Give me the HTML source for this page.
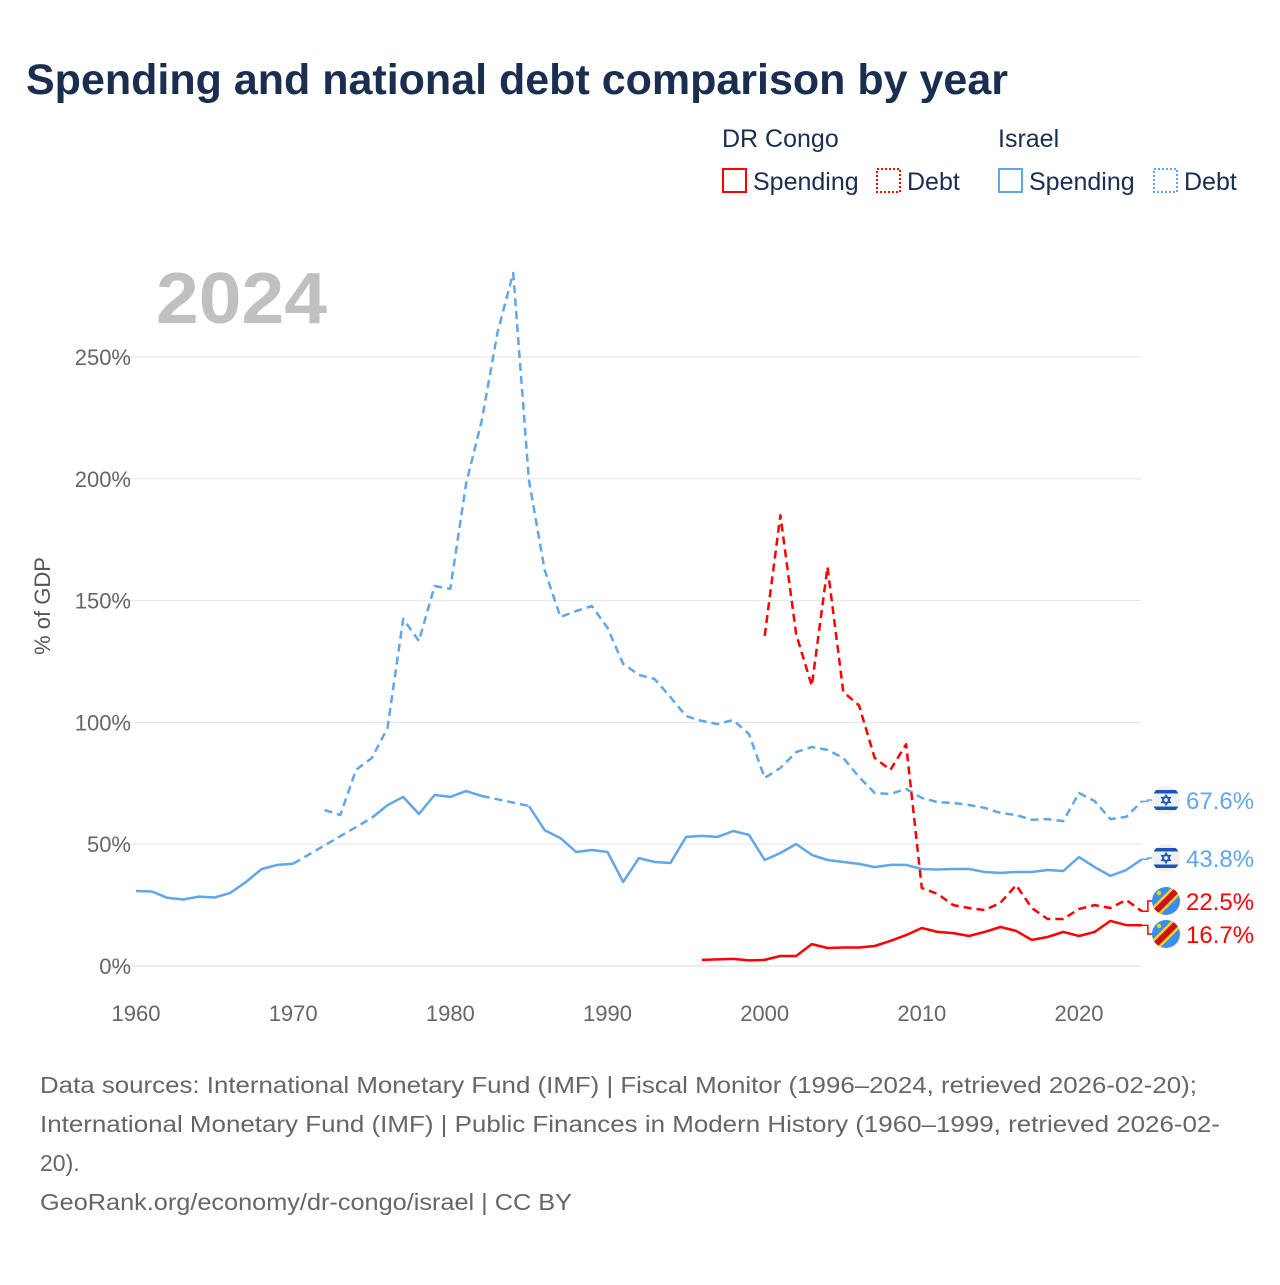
<!DOCTYPE html>
<html><head><meta charset="utf-8">
<style>
body{margin:0;background:#fff;width:1280px;height:1280px;overflow:hidden;font-family:"Liberation Sans",sans-serif;}
svg text{font-family:"Liberation Sans",sans-serif;}
</style></head>
<body>
<svg id="chart" width="1280" height="1280" viewBox="0 0 1280 1280" xmlns="http://www.w3.org/2000/svg">
<text x="26" y="94" font-size="43" font-weight="bold" fill="#1a2e4f">Spending and national debt comparison by year</text>
<g font-size="25" fill="#1a2e4f">
<text x="722" y="147" fill="#1a2e4f">DR Congo</text>
<text x="998" y="147" fill="#1a2e4f">Israel</text>
<g><rect x="723" y="169" width="23" height="23" fill="none" stroke="#ff0000" stroke-width="2"/><text x="753" y="190" fill="#1a2e4f">Spending</text></g>
<g><rect x="877" y="169" width="23" height="23" fill="none" stroke="#ff0000" stroke-width="2" stroke-dasharray="2,2"/><text x="907" y="190" fill="#1a2e4f">Debt</text></g>
<g><rect x="999" y="169" width="23" height="23" fill="none" stroke="#62a6ea" stroke-width="2"/><text x="1029" y="190" fill="#1a2e4f">Spending</text></g>
<g><rect x="1154" y="169" width="23" height="23" fill="none" stroke="#62a6ea" stroke-width="2" stroke-dasharray="2,2"/><text x="1184" y="190" fill="#1a2e4f">Debt</text></g>
</g>
<text x="156" y="323" font-size="72" font-weight="bold" fill="#c0c0c0" textLength="171" lengthAdjust="spacingAndGlyphs">2024</text>
<text transform="translate(50,606) rotate(-90)" text-anchor="middle" font-size="22" fill="#555">% of GDP</text>
<g id="grid"></g><g id="marks"></g>
<g font-size="23" fill="#666">
<text x="40" y="1093" textLength="1157" lengthAdjust="spacingAndGlyphs">Data sources: International Monetary Fund (IMF) | Fiscal Monitor (1996–2024, retrieved 2026-02-20);</text>
<text x="40" y="1132" textLength="1180" lengthAdjust="spacingAndGlyphs">International Monetary Fund (IMF) | Public Finances in Modern History (1960–1999, retrieved 2026-02-</text>
<text x="40" y="1171">20).</text>
<text x="40" y="1210" textLength="532" lengthAdjust="spacingAndGlyphs">GeoRank.org/economy/dr-congo/israel | CC BY</text>
</g>
</svg>
<script>
const years=[];for(let y=1960;y<=2024;y++)years.push(y);
const yTicks=[0,50,100,150,200,250];
const xTicks=[1960,1970,1980,1990,2000,2010,2020];
const israelSpending=[30.8,30.6,28,27.3,28.5,28.1,30,34.5,39.8,41.5,42,null,null,null,null,60.8,66,69.4,62.4,70.2,69.4,71.8,69.8,null,null,65.7,55.8,52.5,46.8,47.6,46.8,34.5,44.3,42.7,42.3,53,53.4,53,55.4,53.8,43.5,46.4,50.1,45.6,43.5,42.7,41.9,40.6,41.5,41.5,39.8,39.6,39.8,39.8,38.6,38.2,38.6,38.6,39.4,39,44.7,40.6,37,39.4,43.8];
const israelDebt=[null,null,null,null,null,null,null,null,null,null,null,null,64,62,80.5,85.4,97.7,142.5,133.4,156,154.8,198,224,260,284.5,199.5,162.6,143.3,145.7,147.8,138.8,124,119.5,117.8,110.4,102.6,100.6,99.3,101,95.2,77.2,81.3,87.8,89.9,88.7,85.4,77.6,71,70.6,72.7,69,67.3,66.9,66.1,64.9,62.8,62,60,60.3,59.5,71,67.7,60.3,61.2,67.6];
const drcSpending=[...Array(36).fill(null),2.5,2.7,2.9,2.3,2.5,4.1,4.1,9,7.4,7.6,7.6,8.2,10.3,12.7,15.6,14,13.5,12.3,14,16,14.4,10.7,11.9,14,12.3,14,18.5,16.8,16.7];
const drcDebt=[...Array(40).fill(null),135.5,185,136.3,115,163.8,112.5,107,85.4,80.5,91,32,29.6,25,23.8,23,25.9,33.2,23.8,19.3,19.3,23.4,25,23.8,27.1,22.5];
const NS="http://www.w3.org/2000/svg";
const X=y=>136+(y-1960)*(1079-136)/60;
const Y=v=>966-v*(966-357)/250;
const grid=document.getElementById('grid'),marks=document.getElementById('marks');
function mk(tag,attrs,parent){const e=document.createElementNS(NS,tag);for(const k in attrs)e.setAttribute(k,attrs[k]);parent.appendChild(e);return e;}
yTicks.forEach(t=>{
 const l=mk('line',{x1:108,x2:1141,y1:Y(t),y2:Y(t),stroke:t===0?'#d8d8d8':'#e6e6e6','stroke-width':1},grid);
 
 
 const tx=mk('text',{x:131,y:Y(t)+8,'text-anchor':'end','font-size':22,fill:'#666'},grid);tx.textContent=t+'%';
 
 
});
xTicks.forEach(t=>{
 const tx=mk('text',{x:X(t),y:1021,'text-anchor':'middle','font-size':22,fill:'#666'},grid);tx.textContent=t;
 
 
});
function drawSeries(vals,color,dashed,name){
 let seg=[],prev=-1;const segs=[],gaps=[];
 vals.forEach((v,i)=>{if(v==null)return;
  if(prev>=0&&i-prev>1){segs.push(seg);seg=[];gaps.push([prev,i]);}
  seg.push(i);prev=i;});
 if(seg.length)segs.push(seg);
 segs.forEach(s=>{if(s.length<2)return;
  const p=mk('path',{d:s.map((i,k)=>(k?'L':'M')+X(years[i]).toFixed(1)+','+Y(vals[i]).toFixed(1)).join(''),fill:'none',stroke:color,'stroke-width':2.5,'stroke-dasharray':dashed?'8,5':'none','stroke-linejoin':'round'},marks);
  
  });
 gaps.forEach(([a,b])=>{
  const p=mk('line',{x1:X(years[a]),y1:Y(vals[a]),x2:X(years[b]),y2:Y(vals[b]),stroke:color,'stroke-width':2.5,'stroke-dasharray':'8,5'},marks);
  
  });
}
drawSeries(israelDebt,'#62a6ea',true,'israel-debt');
drawSeries(israelSpending,'#62a6ea',false,'israel-spending');
drawSeries(drcDebt,'#ff0000',true,'drc-debt');
drawSeries(drcSpending,'#ff0000',false,'drc-spending');
function endLabel(vals,color,ly,flag,name){
 const v=vals[vals.length-1],x0=X(2024),y0=Y(v);
 const c=mk('path',{d:`M${x0},${y0}H${x0+6}V${ly}H${x0+12}`,fill:'none',stroke:color,'stroke-width':1.5},marks);
 
 
 const g=mk('g',{},marks);
 
 
 const cx=1166;
 const cp=mk('clipPath',{id:'cp'+name},g);mk('circle',{cx:cx,cy:ly,r:14},cp);
 const gg=mk('g',{'clip-path':`url(#cp${name})`},g);
 if(flag==='il'){
  mk('rect',{x:cx-14,y:ly-14,width:28,height:28,fill:'#eef0f2'},gg);
  mk('rect',{x:cx-14,y:ly-10,width:28,height:3.5,fill:'#1a55b8'},gg);
  mk('rect',{x:cx-14,y:ly+6.5,width:28,height:3.5,fill:'#1a55b8'},gg);
  mk('path',{d:`M${cx},${ly-5}l4.3,7.5h-8.6z M${cx},${ly+5}l4.3,-7.5h-8.6z`,fill:'none',stroke:'#1a55b8','stroke-width':1.3},gg);
 }else{
  mk('rect',{x:cx-14,y:ly-14,width:28,height:28,fill:'#3a8ef0'},gg);
  mk('line',{x1:cx-16,y1:ly+16,x2:cx+16,y2:ly-16,stroke:'#f7d618','stroke-width':11},gg);
  mk('line',{x1:cx-16,y1:ly+16,x2:cx+16,y2:ly-16,stroke:'#ce1021','stroke-width':6},gg);
  mk('circle',{cx:cx-7,cy:ly-8,r:2.2,fill:'#f7d618'},gg);
 }
 const t=mk('text',{x:1186,y:ly+9,'font-size':24,fill:color},marks);t.textContent=v.toFixed(1)+'%';
 
 
}
endLabel(israelDebt,'#62a6ea',800,'il','israel-debt');
endLabel(israelSpending,'#62a6ea',858,'il','israel-spending');
endLabel(drcDebt,'#ff0000',901,'cd','drc-debt');
endLabel(drcSpending,'#ff0000',934,'cd','drc-spending');
</script>
</body></html>
